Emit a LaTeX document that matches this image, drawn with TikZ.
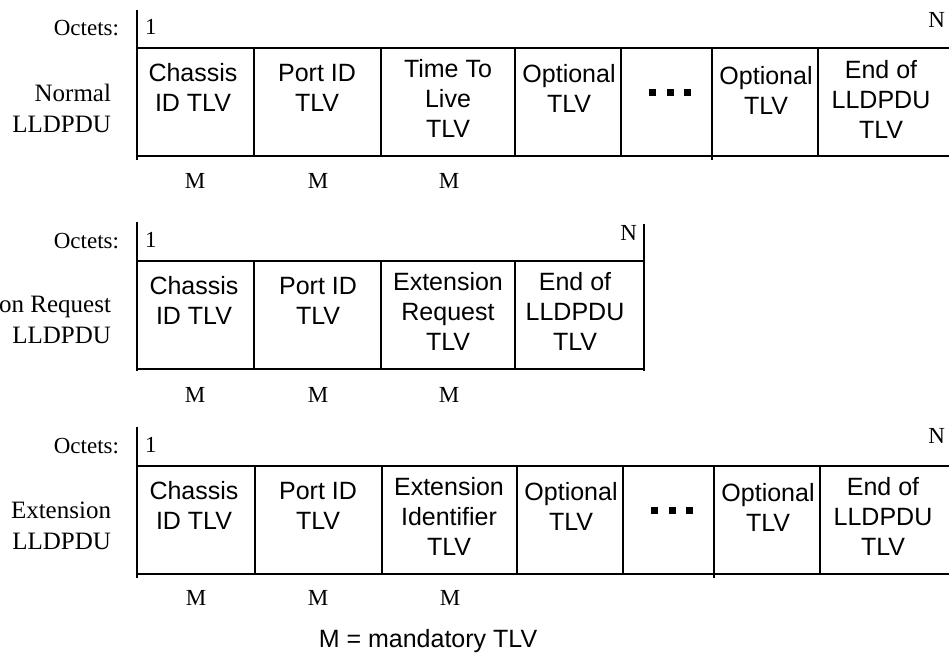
\documentclass[tikz,border=0pt]{standalone}
\usepackage{fontspec}
\setmainfont{Liberation Serif}
\setsansfont{Liberation Sans}

\tikzset{
  field/.style={anchor=north,align=center,inner sep=0pt,
    font=\sffamily\fontsize{25}{30}\selectfont},
  rowname/.style={anchor=north east,align=right,inner sep=0pt,
    font=\fontsize{25}{31}\selectfont},
  octet/.style={inner sep=0pt,font=\fontsize{23}{28}\selectfont},
}

\begin{document}
\begin{tikzpicture}[x=1pt,y=-1pt,line width=2pt]
  \useasboundingbox (0,0) rectangle (949,653);
  \clip (0,0) rectangle (949,653);

  % normal LLDPDU
  \draw (137,10) -- (137,160);
  \draw (137,48) -- (949,48) (137,156) -- (949,156);
  \foreach \x in {254,381,515,621,818} {
    \draw (\x,48) -- (\x,156);
  }
  \draw (712,48) -- (712,160);
  \foreach \x in {652,670,687} {
    \fill (\x-3.5,88.5) rectangle ++(7,7);
  }
  \node[octet,anchor=base east] (octA) at (120,35) {Octets:};
  \node[octet,anchor=base west] (firstA) at (144,34) {1};
  \node[octet,anchor=base east] (lastA) at (946,27) {N};
  \node[rowname] (nameA) at (112,78.5) {\strut Normal\\LLDPDU};
  \node[field] (chassisA) at (193,59.5) {\strut Chassis\\ID TLV};
  \node[field] (portA) at (317,59.5) {\strut Port ID\\TLV};
  \node[field] (ttlA) at (448,55.5) {\strut Time To\\Live\\TLV};
  \node[field] (optA) at (569,60.5) {\strut Optional\\TLV};
  \node[field] (optB) at (766,62.5) {\strut Optional\\TLV};
  \node[field] (endA) at (881,56.5) {\strut End of\\LLDPDU\\TLV};
  \foreach \x/\n in {195/1,318/2,449/3} {
    \node[octet,anchor=base] (mA\n) at (\x,188) {M};
  }

  % extension request LLDPDU
  \draw (137,222) -- (137,371);
  \draw (137,261) -- (644,261) (137,369) -- (644,369);
  \foreach \x in {254,381,515} {
    \draw (\x,261) -- (\x,369);
  }
  \draw (644,224) -- (644,371);
  \node[octet,anchor=base east] (octB) at (120,248) {Octets:};
  \node[octet,anchor=base west] (firstB) at (144,247) {1};
  \node[octet,anchor=base east] (lastB) at (638,240) {N};
  \node[rowname] (nameB) at (112,290) {\strut Extension Request\\LLDPDU};
  \node[field] (chassisB) at (194,272.5) {\strut Chassis\\ID TLV};
  \node[field] (portB) at (318,272.5) {\strut Port ID\\TLV};
  \node[field] (reqB) at (448,268.5) {\strut Extension\\Request\\TLV};
  \node[field] (endB) at (575,268.5) {\strut End of\\LLDPDU\\TLV};
  \foreach \x/\n in {195/1,318/2,449/3} {
    \node[octet,anchor=base] (mB\n) at (\x,402) {M};
  }

  % extension LLDPDU
  \draw (137,427) -- (137,578);
  \draw (137,466) -- (949,466) (137,574) -- (949,574);
  \foreach \x in {255,382,517,623,820} {
    \draw (\x,466) -- (\x,574);
  }
  \draw (714,466) -- (714,578);
  \foreach \x in {654,672,689} {
    \fill (\x-3.5,506.5) rectangle ++(7,7);
  }
  \node[octet,anchor=base east] (octC) at (120,453) {Octets:};
  \node[octet,anchor=base west] (firstC) at (144,452) {1};
  \node[octet,anchor=base east] (lastC) at (946,443) {N};
  \node[rowname] (nameC) at (112,495.5) {\strut Extension\\LLDPDU};
  \node[field] (chassisC) at (194,477.5) {\strut Chassis\\ID TLV};
  \node[field] (portC) at (318,477.5) {\strut Port ID\\TLV};
  \node[field] (idC) at (449,473.5) {\strut Extension\\Identifier\\TLV};
  \node[field] (optC) at (571,478.5) {\strut Optional\\TLV};
  \node[field] (optD) at (768,479.5) {\strut Optional\\TLV};
  \node[field] (endC) at (883,473.5) {\strut End of\\LLDPDU\\TLV};
  \foreach \x/\n in {196/1,318/2,450/3} {
    \node[octet,anchor=base] (mC\n) at (\x,605) {M};
  }

  \node[octet,anchor=base,font=\sffamily\fontsize{25}{30}\selectfont] (key) at (428,647) {M = mandatory TLV};
\end{tikzpicture}
\end{document}
